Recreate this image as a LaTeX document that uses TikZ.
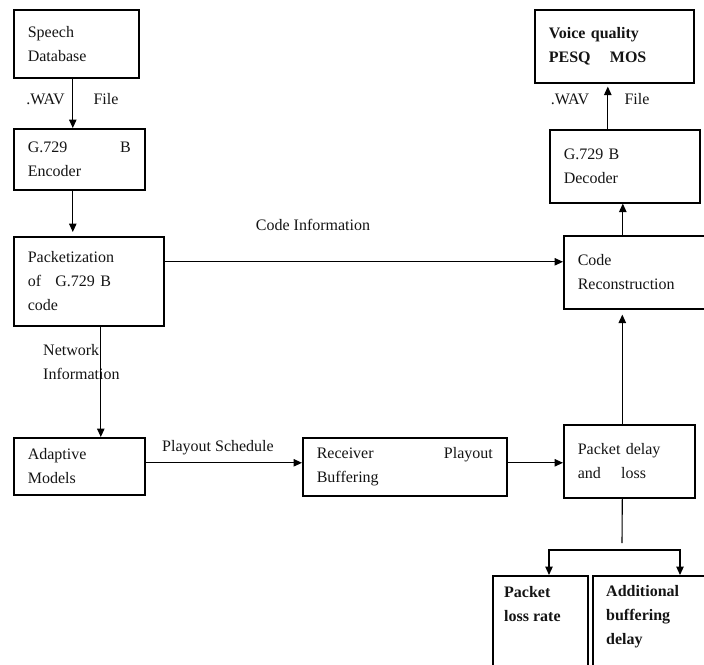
\documentclass[tikz,border=0pt]{standalone}
\usepackage{fontspec}
\setmainfont{Liberation Serif}
\usetikzlibrary{arrows.meta,calc}
\begin{document}
\begin{tikzpicture}[x=1pt,y=-1pt,
 box/.style={draw, line width=1.6pt, anchor=north west, inner xsep=14pt, inner ysep=0pt, align=left, font=\fontsize{16}{24}\selectfont, text=black!92},
 lbl/.style={font=\fontsize{16}{24}\selectfont, text=black!92, inner sep=0pt, align=left},
 arr/.style={line width=1.1pt, -{Triangle[length=8.5pt,width=7.5pt]}},
 arrs/.style={line width=1.1pt, {Triangle[length=8.5pt,width=7.5pt]}-{Triangle[length=8.5pt,width=7.5pt]}},
 ln/.style={line width=1.1pt}]
\useasboundingbox (0,0) rectangle (704,664);
\clip (0,0) rectangle (704,664);
% boxes
\node[box, minimum width=125, minimum height=68, text width=97] (speech) at (13,9) {Speech\\Database};
\node[box, minimum width=131, minimum height=61, text width=103] (encoder) at (13,128) {G.729\hfill B\\Encoder};
\node[box, minimum width=150, minimum height=89, text width=122] (pack) at (13,236) {Packetization\\of\hspace{9pt} G.729 B\\code};
\node[box, minimum width=131, minimum height=57, text width=103] (adapt) at (13,437) {Adaptive\\Models};
\node[box, minimum width=204, minimum height=58, text width=176] (recv) at (302,437) {Receiver\hfill Playout\\Buffering};
\node[box, minimum width=131, minimum height=73, text width=103] (pdl) at (563,424) {Packet delay\\and\hspace{15pt} loss};
\node[box, minimum width=160, minimum height=73, text width=132] (recon) at (563,235) {Code\\Reconstruction};
\node[box, minimum width=150, minimum height=73, text width=122] (dec) at (549,129) {G.729 B\\Decoder};
\node[box, minimum width=159, minimum height=73, text width=131, font=\fontsize{16}{24}\selectfont\bfseries] (voice) at (534,9) {Voice quality\\PESQ\hspace{14pt} MOS};
\node[box, minimum width=95, minimum height=110, text width=67] (ploss) at (492,575) {};
\node[box, minimum width=130, minimum height=110, text width=102] (add) at (592,575) {};
\node[lbl, font=\fontsize{16}{24}\selectfont\bfseries, anchor=north west] (plosst) at ([shift={(12,11)}]ploss.north west) {Packet\\loss rate};
\node[lbl, font=\fontsize{16}{24}\selectfont\bfseries, anchor=north west] (addt) at ([shift={(14,10)}]add.north west) {Additional\\buffering\\delay};
% labels
\node[lbl] (wav1) at (45.5,99) {.WAV};
\node[lbl] (file1) at (106,99) {File};
\node[lbl, anchor=west] (netinfo) at (43,362) {Network\\Information};
\node[lbl] (ps) at (218,448) {Playout Schedule};
\node[lbl] (ci) at (313,225) {Code Information};
\node[lbl] (wav2) at (570,99) {.WAV};
\node[lbl] (file2) at (637,99) {File};
% connectors
\draw[arr] ([xshift=-3.5pt]speech.south) -- ([xshift=-3.5pt]speech.south |- encoder.north);
\draw[arr] ([xshift=-6.5pt]encoder.south) -- ([xshift=-6.5pt,yshift=4pt]encoder.south |- pack.north);
\draw[arr] ([xshift=12pt]pack.south) -- ([xshift=12pt]pack.south |- adapt.north);
\draw[arr] ([yshift=19.5pt]pack.east) -- ([yshift=19.5pt]pack.east -| recon.west);
\draw[arr] ([yshift=3.5pt]adapt.east) -- ([yshift=3.5pt]adapt.east -| recv.west);
\draw[arr] ([yshift=4pt]recv.east) -- ([yshift=4pt]recv.east -| pdl.west);
\draw[arr] ([xshift=-7pt]pdl.north) -- ([xshift=-7pt,yshift=-5pt]pdl.north |- recon.south);
\draw[arr] ([xshift=-21pt]recon.north) -- ([xshift=-21pt]recon.north |- dec.south);
\draw[arr] ([xshift=-17pt]dec.north) -- ([xshift=-17pt,yshift=-3pt]dec.north |- voice.south);
\coordinate (fk) at (622,543);
\coordinate (fl) at (549,550);
\coordinate (fr) at (680,550);
\draw[ln] ([xshift=-7pt]pdl.south) -- (fk);
\draw[arrs] (fl |- ploss.north) -- (fl) -- (fr) -- (fr |- add.north);
\end{tikzpicture}
\end{document}
